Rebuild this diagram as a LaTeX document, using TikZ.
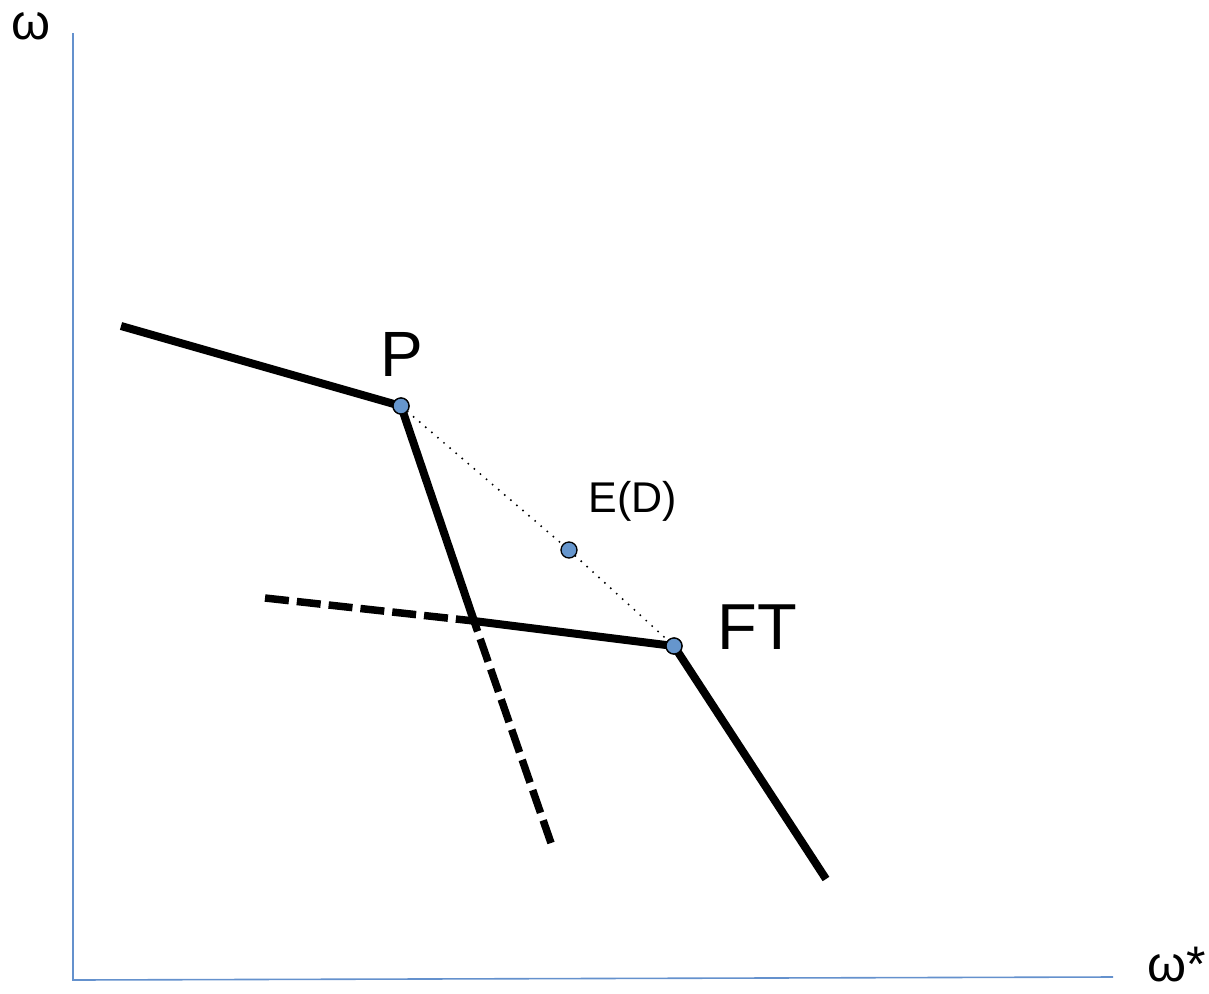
\documentclass[tikz,border=0pt]{standalone}
\usepackage{fontspec}
\setmainfont{Liberation Sans}
\definecolor{axisblue}{RGB}{100,145,205}
\definecolor{ptblue}{RGB}{102,150,205}
\begin{document}
\begin{tikzpicture}[x=1pt,y=-1pt,
  axis/.style={draw=axisblue,line width=1.6pt},
  curve/.style={line width=8pt,line join=miter},
  dashcurve/.style={line width=7.5pt,dash pattern=on 24pt off 8pt},
  dotline/.style={line width=2.2pt,line cap=round,dash pattern=on 0pt off 8pt},
  pt/.style={circle,draw=black,fill=ptblue,line width=1.3pt,minimum size=16pt,inner sep=0pt},
  lbl/.style={inner sep=0pt}]
\useasboundingbox (0,0) rectangle (1209,993);
\coordinate (ytop) at (73,33);
\coordinate (orig) at (73,980);
\coordinate (xend) at (1113,977);
\draw[axis] (ytop) -- (orig) -- (xend);
\node[lbl,font=\fontsize{50}{50}\selectfont] (wlab) at (31,26) {ω};
\node[lbl,font=\fontsize{50}{50}\selectfont] (wslab) at (1177,965) {ω*};
\coordinate (a) at (121,326);
\coordinate (k) at (474,621);
\coordinate (b) at (826,879);
\coordinate (d1) at (265,598);
\coordinate (d2) at (551,843);
\node[pt] (P) at (401,406) {};
\node[pt] (FT) at (674,646) {};
\node[pt] (ED) at (569,550) {};
\draw[dotline] (P) -- (ED) -- (FT);
\draw[dashcurve] (d1) -- (k);
\draw[dashcurve] (d2) -- (k);
\draw[curve] (a) -- (P.center) -- (k) -- (FT.center) -- (b);
\node[pt] at (P) {};
\node[pt] at (FT) {};
\node[lbl,font=\fontsize{64}{64}\selectfont] (Plab) at (402,354) {P};
\node[lbl,font=\fontsize{43}{43}\selectfont] (EDlab) at (633,501) {E(D)};
\node[lbl,font=\fontsize{65}{65}\selectfont] (FTlab) at (757,627) {FT};
\end{tikzpicture}
\end{document}
